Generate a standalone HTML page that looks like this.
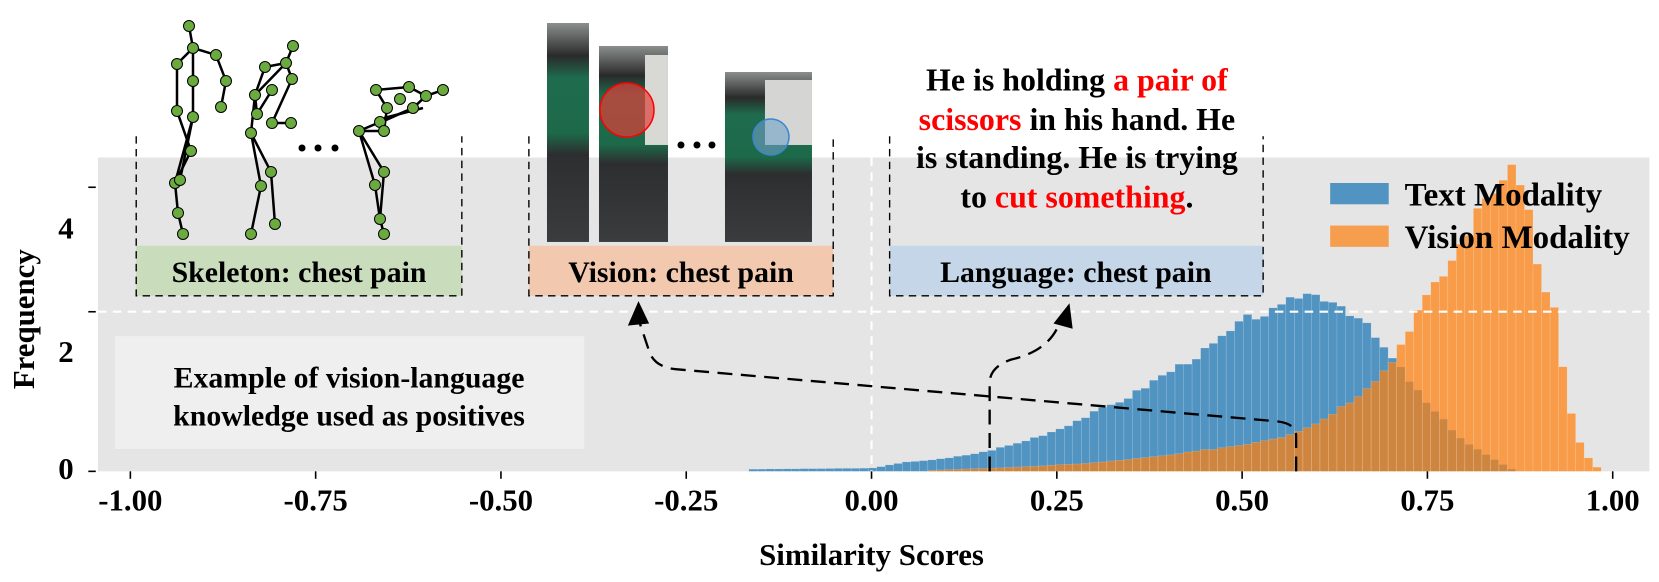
<!DOCTYPE html>
<html><head><meta charset="utf-8"><style>
html,body{margin:0;padding:0;background:#fff;}
svg{display:block;}
text{font-family:"Liberation Serif",serif;font-weight:bold;fill:#000;}
</style></head><body>
<svg id="s" width="1659" height="582" viewBox="0 0 1559 547" preserveAspectRatio="none" xmlns="http://www.w3.org/2000/svg">
<rect x="92" y="148" width="1458" height="295" fill="#e5e5e5"/>
<g id="hist"></g>
<line x1="92" y1="293" x2="1550" y2="293" stroke="#fff" stroke-width="2" stroke-dasharray="8,6"/>
<line x1="819" y1="148" x2="819" y2="443" stroke="#fff" stroke-width="2" stroke-dasharray="8,6"/>
<g id="ax" stroke="#000" stroke-width="1.5"></g>
<g font-size="29" text-anchor="middle" id="xl"></g>
<text x="62" y="224" font-size="29" text-anchor="middle">4</text>
<text x="62" y="340" font-size="29" text-anchor="middle">2</text>
<text x="62" y="450" font-size="29" text-anchor="middle">0</text>
<text x="819" y="531" font-size="29" text-anchor="middle">Similarity Scores</text>
<text transform="translate(32,300) rotate(-90)" font-size="29" text-anchor="middle">Frequency</text>
<!-- legend -->
<rect x="1250" y="172" width="55" height="20" fill="#1f77b4" fill-opacity="0.75"/>
<text x="1320" y="193" font-size="31">Text Modality</text>
<rect x="1250" y="212" width="55" height="20" fill="#ff7f0e" fill-opacity="0.7"/>
<text x="1320" y="233" font-size="31">Vision Modality</text>
<!-- example box -->
<rect x="108" y="316" width="441" height="106" fill="#efefef"/>
<text x="328" y="364" font-size="28" text-anchor="middle">Example of vision-language</text>
<text x="328" y="400" font-size="28" text-anchor="middle">knowledge used as positives</text>
<!-- panels -->
<rect x="128" y="231" width="306" height="47" fill="#c9dcbc"/>
<text x="281" y="265" font-size="28" text-anchor="middle">Skeleton: chest pain</text>
<path d="M128 128V278H434V128" fill="none" stroke="#000" stroke-width="1.3" stroke-dasharray="7,5"/>
<rect x="497" y="231" width="286" height="47" fill="#f2c9ae"/>
<text x="640" y="265" font-size="28" text-anchor="middle">Vision: chest pain</text>
<path d="M497 128V278H783V128" fill="none" stroke="#000" stroke-width="1.3" stroke-dasharray="7,5"/>
<rect x="836" y="231" width="351" height="47" fill="#c4d6e8"/>
<text x="1011" y="265" font-size="28" text-anchor="middle">Language: chest pain</text>
<path d="M836 128V278H1187V128" fill="none" stroke="#000" stroke-width="1.3" stroke-dasharray="7,5"/>
<g font-size="30" text-anchor="middle">
<text x="1012" y="85">He is holding <tspan style="fill:#f00">a pair of</tspan></text>
<text x="1012" y="122"><tspan style="fill:#f00">scissors</tspan> in his hand. He</text>
<text x="1012" y="158">is standing. He is trying</text>
<text x="1012" y="195">to <tspan style="fill:#f00">cut something</tspan>.</text>
</g>
<g transform="scale(0.9397)">
<defs>
<linearGradient id="p" x1="0" y1="0" x2="0" y2="1">
<stop offset="0" stop-color="#8a8f8c"/><stop offset="0.15" stop-color="#2a2a2a"/><stop offset="0.25" stop-color="#1f6b4e"/><stop offset="0.5" stop-color="#1d6a4a"/><stop offset="0.6" stop-color="#2c2e30"/><stop offset="1" stop-color="#3a3c3d"/></linearGradient>
</defs>
<rect x="547" y="23" width="42" height="219" fill="url(#p)"/>
<rect x="599" y="46" width="69" height="196" fill="url(#p)"/>
<rect x="645" y="55" width="23" height="90" fill="#d8d8d4"/>
<rect x="725" y="72" width="87" height="170" fill="url(#p)"/>
<rect x="765" y="80" width="47" height="65" fill="#d5d6d3"/>
<circle cx="627" cy="110" r="27" fill="#e0403a" fill-opacity="0.7" stroke="#f00" stroke-width="1.5"/>
<circle cx="771" cy="137" r="18" fill="#6fa0c8" fill-opacity="0.6" stroke="#3a86d0" stroke-width="1.5"/>
<g fill="#000"><circle cx="681" cy="145" r="3.5"/><circle cx="697" cy="145" r="3.5"/><circle cx="712" cy="145" r="3.5"/>
<circle cx="302" cy="148" r="3.5"/><circle cx="318" cy="148" r="3.5"/><circle cx="335" cy="148" r="3.5"/></g>
<g stroke="#000" stroke-width="2.5" fill="none">
<polyline points="189,26 193,48 216,55 226,81 221,107"/>
<polyline points="193,48 177,64 177,111 191,151 175,183 178,213 183,234"/>
<polyline points="193,48 193,81 193,117 180,180 175,183"/>
<polyline points="193,117 175,183"/>
<polyline points="293,46 286,63 265,67 255,95 251,133 261,186 251,234"/>
<polyline points="286,63 292,79 272,123 291,123"/>
<polyline points="286,63 255,95 257,114 272,90"/>
<polyline points="251,133 271,172 275,224"/>
<polyline points="376,90 409,87 426,96 443,90"/>
<polyline points="376,90 387,108 384,131 359,131 384,172 380,219 384,234"/>
<polyline points="426,96 413,108 359,131 375,185 380,219"/>
<polyline points="426,96 413,108 384,121 380,122"/>
<polyline points="423,108 384,118"/>
</g>
<g fill="#6aaa3f" stroke="#000" stroke-width="1" id="joints"></g>
</g>
<g fill="none" stroke="#000" stroke-width="2.2" stroke-dasharray="14,8">
<path d="M1218 443V410Q1218 398 1200 396L635 347Q615 345 610 330L600 300"/>
<path d="M930 443V360Q930 345 950 338Q985 330 995 305"/>
</g>
<polygon points="600,283 590,306 610,304" fill="#000"/>
<polygon points="1005,285 990,304 1008,309" fill="#000"/>
</svg>
<script>
var NS="http://www.w3.org/2000/svg";
function mk(p,t,a){var e=document.createElementNS(NS,t);for(var k in a)e.setAttribute(k,a[k]);p.appendChild(e);return e;}
function X(u){return 819+u*696.5;}
function interp(pts,u){if(u<pts[0][0]||u>pts[pts.length-1][0])return 443;for(var i=0;i<pts.length-1;i++){if(u>=pts[i][0]&&u<=pts[i+1][0]){var t=(u-pts[i][0])/(pts[i+1][0]-pts[i][0]);return pts[i][1]+t*(pts[i+1][1]-pts[i][1]);}}return 443;}
var B=[[-0.17,441],[0,440],[0.05,434],[0.1,431],[0.15,425],[0.2,416],[0.25,404],[0.3,388],[0.35,372],[0.39,354],[0.45,330],[0.51,298],[0.55,292],[0.58,275],[0.62,280],[0.64,290],[0.66,300],[0.70,335],[0.72,352],[0.75,380],[0.8,415],[0.85,436],[0.87,443]];
var O=[[0.08,442],[0.2,439],[0.3,435],[0.4,428],[0.5,418],[0.556,410],[0.6,398],[0.65,375],[0.7,343],[0.74,288],[0.77,260],[0.795,230],[0.83,185],[0.86,162],[0.88,168],[0.9,257],[0.92,285],[0.94,380],[0.96,425],[0.98,440],[0.99,443]];
var h=document.getElementById('hist');var w=0.0115;var seed=3;function rnd(){seed=(seed*9301+49297)%233280;return seed/233280-0.5;}
[[B,'#1f77b4',0.75],[O,'#ff7f0e',0.72]].forEach(function(d){for(var u=-0.2;u<1.0;u+=w){var y=interp(d[0],u+w/2);if(y>=442.5)continue;var hh=443-y;y=443-hh*(1+rnd()*0.06);mk(h,'rect',{x:X(u),y:y,width:w*696.5,height:443-y,fill:d[1],'fill-opacity':d[2],stroke:'#fff','stroke-opacity':0.25,'stroke-width':0.5});}});
var ax=document.getElementById('ax'),xl=document.getElementById('xl');
[-1,-0.75,-0.5,-0.25,0,0.25,0.5,0.75,1].forEach(function(v){mk(ax,'line',{x1:X(v),y1:443,x2:X(v),y2:450});var t=mk(xl,'text',{x:X(v),y:480});t.textContent=v.toFixed(2);});
[176,293,443].forEach(function(y){mk(ax,'line',{x1:83,y1:y,x2:90,y2:y});});
var J=[[189,26],[193,48],[177,64],[216,55],[226,81],[221,107],[193,81],[177,111],[193,117],[191,151],[175,183],[180,180],[178,213],[183,234],[293,46],[286,63],[265,67],[292,79],[272,90],[255,95],[257,114],[272,123],[291,123],[251,133],[271,172],[261,186],[251,234],[275,224],[376,90],[409,87],[400,99],[426,96],[443,90],[413,108],[387,108],[380,122],[384,131],[359,131],[384,172],[375,185],[380,219],[384,234]];
var jg=document.getElementById('joints');J.forEach(function(p){mk(jg,'circle',{cx:p[0],cy:p[1],r:5.5});});
</script>
</body></html>
